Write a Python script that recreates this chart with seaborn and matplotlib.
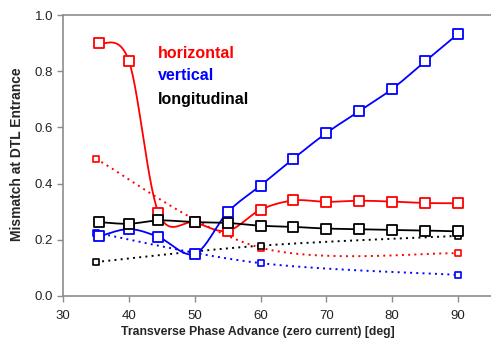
import numpy as np
import pandas as pd
import matplotlib
matplotlib.use("Agg")
import matplotlib.pyplot as plt
import seaborn as sns

# ---- data ----
x_main = [35.5, 40, 44.5, 50, 55, 60, 65, 70, 75, 80, 85, 90]
horizontal = [0.900, 0.837, 0.296, 0.262, 0.232, 0.307, 0.340, 0.335, 0.339, 0.336, 0.331, 0.330]
vertical = [0.212, 0.238, 0.210, 0.150, 0.298, 0.393, 0.489, 0.580, 0.658, 0.737, 0.835, 0.933]
longitudinal = [0.263, 0.257, 0.269, 0.263, 0.260, 0.250, 0.246, 0.240, 0.238, 0.235, 0.233, 0.230]

x_dot = [35, 60, 90]
horizontal_dot = [0.488, 0.172, 0.152]
vertical_dot = [0.225, 0.117, 0.075]
longitudinal_dot = [0.121, 0.179, 0.214]

legend_labels = ["horizontal", "vertical", "longitudinal"]
colors = ["#ff0000", "#0000ff", "#000000"]
x_ticks = [30, 40, 50, 60, 70, 80, 90]
y_ticks = [0.0, 0.2, 0.4, 0.6, 0.8, 1.0]


def smooth(xs, ys, n=30):
    """Excel-style smoothed line (Catmull-Rom / Bezier with 1/6 tension)."""
    P = np.column_stack([xs, ys]).astype(float)
    P = np.vstack([P[0], P, P[-1]])
    out = []
    t = np.linspace(0, 1, n)
    for i in range(1, len(P) - 2):
        p0, p1, p2, p3 = P[i - 1], P[i], P[i + 1], P[i + 2]
        c1 = p1 + (p2 - p0) / 6.0
        c2 = p2 - (p3 - p1) / 6.0
        seg = ((1 - t) ** 3)[:, None] * p1 + (3 * (1 - t) ** 2 * t)[:, None] * c1 \
            + (3 * (1 - t) * t ** 2)[:, None] * c2 + (t ** 3)[:, None] * p2
        out.append(seg if i == 1 else seg[1:])
    out = np.vstack(out)
    return out[:, 0], out[:, 1]


sns.set_style("white")
plt.rcParams["font.family"] = ["Liberation Sans", "DejaVu Sans"]

fig = plt.figure(figsize=(4.91, 3.50), dpi=100)
ax = fig.add_axes([63 / 491, 1 - 296 / 350, 1 - 63 / 491, (296 - 15) / 350])

# dotted series (small markers)
for ys, c in zip([horizontal_dot, vertical_dot, longitudinal_dot], colors):
    cx, cy = smooth(x_dot, ys)
    sns.lineplot(x=cx, y=cy, sort=False, estimator=None, ax=ax, color=c,
                 linewidth=1.4, linestyle=(0, (1, 2.2)), zorder=2)
    sns.scatterplot(x=x_dot, y=ys, ax=ax, marker="s", s=14, facecolor="white",
                    edgecolor=c, linewidth=1.2, zorder=3)

# solid series (large markers)
for ys, c in zip([horizontal, vertical, longitudinal], colors):
    cx, cy = smooth(x_main, ys)
    sns.lineplot(x=cx, y=cy, sort=False, estimator=None, ax=ax, color=c,
                 linewidth=1.3, zorder=4)
    sns.scatterplot(x=x_main, y=ys, ax=ax, marker="s", s=55, facecolor="white",
                    edgecolor=c, linewidth=1.3, zorder=5)

ax.set_xlim(30, 95)
ax.set_ylim(0, 1.0)
ax.set_xticks(x_ticks)
ax.set_yticks(y_ticks)
ax.set_yticklabels([f"{v:.1f}" for v in y_ticks])

for side in ["top", "left", "bottom"]:
    ax.spines[side].set_visible(True)
    ax.spines[side].set_color("#8c8c8c")
    ax.spines[side].set_linewidth(1.2)
ax.spines["right"].set_visible(False)

ax.tick_params(axis="both", which="major", direction="out", length=4, width=1,
               color="#8c8c8c", labelsize=9.5, labelcolor="#222222", pad=3,
               bottom=True, left=True)
ax.tick_params(axis="x", pad=6)

ax.set_xlabel("Transverse Phase Advance (zero current) [deg]", fontsize=8.8,
              fontweight="bold")
ax.xaxis.set_label_coords((258 - 63) / (491 - 63), -(332 - 296) / (296 - 15))
ax.xaxis.label.set_va("center")
ax.set_ylabel("Mismatch at DTL Entrance", fontsize=10, fontweight="bold")
ax.yaxis.set_label_coords(-(63 - 17) / (491 - 63), (296 - 154) / (296 - 15))
ax.yaxis.label.set_va("center")

for i, (lab, c) in enumerate(zip(legend_labels, colors)):
    ax.text(158 / 491, 1 - (53 + 23 * i) / 350, lab, transform=fig.transFigure,
            color=c, fontsize=11.5, fontweight="bold", va="center", ha="left")

fig.savefig("out.png", dpi=100, facecolor="white")
